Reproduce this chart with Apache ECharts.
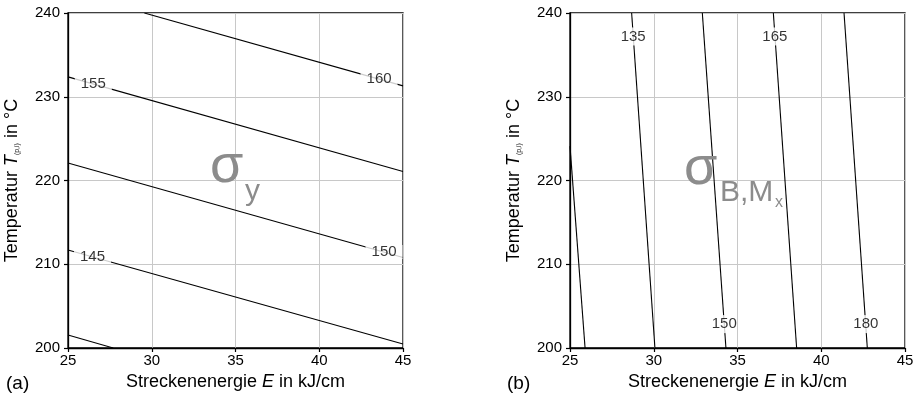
<!DOCTYPE html>
<html><head><meta charset="utf-8">
<script src="https://cdn.jsdelivr.net/npm/echarts@6/dist/echarts.min.js"></script>
<style>html,body{margin:0;padding:0;background:#fff}#c{width:917px;height:397px}</style>
</head><body><div id="c"></div>
<script>
// ---- data (E in kJ/cm, T in °C) ----
const xTicks = [25, 30, 35, 40, 45];
const yTicks = [200, 210, 220, 230, 240];

// (a) sigma_y contour lines
const aLevels = [140, 145, 150, 155, 160];
const aLines = [
  [[25, 201.55], [27.7, 200]],
  [[25, 211.7], [45, 200.48]],
  [[25, 222.08], [45, 210.8]],
  [[25, 232.37], [45, 221.08]],
  [[29.56, 240], [45, 231.3]]
];
const aLabelLevels = [145, 150, 155, 160];
const aLabelPos = [[26.46, 210.9], [43.87, 211.45], [26.51, 231.55], [43.57, 232.1]];

// (b) sigma_B,Mx contour lines
const bLevels = [120, 135, 150, 165, 180];
const bLines = [
  [[25, 224.1], [25.9, 200]],
  [[28.68, 240], [30.07, 200]],
  [[32.90, 240], [34.31, 200]],
  [[37.14, 240], [38.53, 200]],
  [[41.36, 240], [42.75, 200]]
];
const bLabelLevels = [135, 150, 165, 180];
const bLabelPos = [[28.77, 237.2], [34.21, 202.85], [37.23, 237.2], [42.66, 202.85]];

const FONT = '"Liberation Sans", Arial, Helvetica, sans-serif';

function xAxis(idx) {
  return {
    type: 'value', gridIndex: idx, min: 25, max: 45, interval: 5,
    name: '{n|Streckenenergie }{i|E}{n| in kJ/cm}',
    nameLocation: 'middle', nameGap: 25,
    nameTextStyle: { color: '#000', fontFamily: FONT, fontSize: 18,
      rich: { n: { fontSize: 18, fontFamily: FONT, color: '#000' },
              i: { fontSize: 18, fontFamily: FONT, color: '#000', fontStyle: 'italic' } } },
    axisLine: { show: true, onZero: false, lineStyle: { color: '#000', width: 1.3 } },
    axisTick: { show: true, inside: false, length: 4, lineStyle: { color: '#000', width: 1.2 } },
    axisLabel: { color: '#000', fontFamily: FONT, fontSize: 15, margin: 5,
      formatter: v => xTicks.includes(v) ? String(v) : '' },
    splitLine: { show: true, lineStyle: { color: '#c8c8c8', width: 1 } }
  };
}
function yAxis(idx) {
  return {
    type: 'value', gridIndex: idx, min: 200, max: 240, interval: 10,
    name: '{n|Temperatur }{i|T}{s|(p,i)}{n| in °C}',
    nameLocation: 'middle', nameGap: 47, nameRotate: 90,
    nameTextStyle: { color: '#000', fontFamily: FONT, fontSize: 18,
      rich: { n: { fontSize: 18, fontFamily: FONT, color: '#000' },
              i: { fontSize: 18, fontFamily: FONT, color: '#000', fontStyle: 'italic' },
              s: { fontSize: 7, fontFamily: FONT, color: '#000', verticalAlign: 'bottom', lineHeight: 14 } } },
    axisLine: { show: true, onZero: false, lineStyle: { color: '#000', width: 1.3 } },
    axisTick: { show: true, inside: false, length: 4, lineStyle: { color: '#000', width: 1.2 } },
    axisLabel: { color: '#000', fontFamily: FONT, fontSize: 15, margin: 8,
      formatter: v => yTicks.includes(v) ? String(v) : '' },
    splitLine: { show: true, lineStyle: { color: '#c8c8c8', width: 1 } }
  };
}

const series = [];
function addLines(lines, levels, idx) {
  lines.forEach((pts, k) => {
    series.push({
      type: 'line', name: 'L' + idx + '_' + levels[k], xAxisIndex: idx, yAxisIndex: idx,
      data: pts, showSymbol: false, symbol: 'none', silent: true, z: 3,
      lineStyle: { color: '#000', width: 1.1 }, clip: true
    });
  });
}
function addLabels(pos, levels, idx, pad) {
  series.push({
    type: 'scatter', xAxisIndex: idx, yAxisIndex: idx, symbolSize: 0, silent: true, z: 5,
    data: pos.map((p, k) => ({ value: p, lvl: levels[k] })),
    label: { show: true, position: 'inside', formatter: p => String(p.data.lvl),
      color: '#000', fontFamily: FONT, fontSize: 15, backgroundColor: '#fff',
      padding: pad, lineHeight: 12 }
  });
}
addLines(aLines, aLevels, 0);
addLines(bLines, bLevels, 1);
addLabels(aLabelPos, aLabelLevels, 0, [1, 6]);
addLabels(bLabelPos, bLabelLevels, 1, [3, 0]);

const chart = echarts.init(document.getElementById('c'), null, { renderer: 'canvas' });
chart.setOption({
  animation: false,
  backgroundColor: '#fff',
  grid: [
    { left: 68, right: 514, top: 13, bottom: 49, show: true, borderColor: '#000', borderWidth: 1.3, backgroundColor: 'transparent' },
    { left: 570, right: 12, top: 13, bottom: 49, show: true, borderColor: '#000', borderWidth: 1.3, backgroundColor: 'transparent' }
  ],
  xAxis: [xAxis(0), xAxis(1)],
  yAxis: [yAxis(0), yAxis(1)],
  series: series,
  graphic: [
    { type: 'text', left: 210, top: 140, z: 10, silent: true,
      style: { text: 'σ', fill: '#8c8c8c', font: '54px ' + FONT } },
    { type: 'text', left: 245, top: 177, z: 10, silent: true,
      style: { text: 'y', fill: '#8c8c8c', font: '30px ' + FONT } },
    { type: 'text', left: 684, top: 142, z: 10, silent: true,
      style: { text: 'σ', fill: '#8c8c8c', font: '54px ' + FONT } },
    { type: 'text', left: 720, top: 178, z: 10, silent: true,
      style: { text: 'B,M', fill: '#8c8c8c', font: '30px ' + FONT } },
    { type: 'text', left: 775, top: 195, z: 10, silent: true,
      style: { text: 'x', fill: '#8c8c8c', font: '16px ' + FONT } },
    { type: 'text', left: 6, top: 374, silent: true,
      style: { text: '(a)', fill: '#000', font: '19px ' + FONT } },
    { type: 'text', left: 507, top: 374, silent: true,
      style: { text: '(b)', fill: '#000', font: '19px ' + FONT } }
  ]
});
</script></body></html>
